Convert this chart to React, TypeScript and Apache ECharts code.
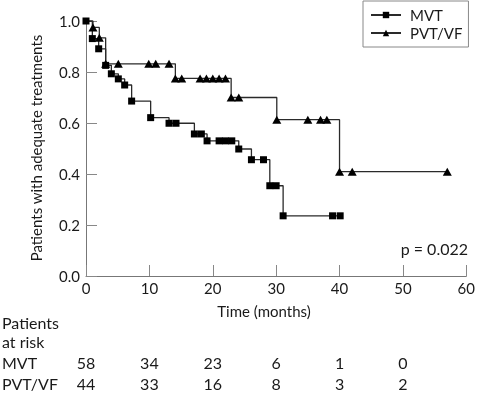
import React, { useEffect, useRef } from "react";
import * as echarts from "echarts";

const riskMonths = [0, 10, 20, 30, 40, 50];
const riskMVT = [58, 34, 23, 6, 1, 0];
const riskPVT = [44, 33, 16, 8, 3, 2];

const mvtTimes = [0, 1, 2, 3.1, 4, 5.1, 6.1, 7.2, 10.2, 13.1, 14.2, 17.1, 18.2, 19.1, 21, 22, 23, 24.1, 26.1, 28, 29, 30, 31.1, 38.9, 40.1];
const mvtSurv = [1.0, 0.931, 0.891, 0.826, 0.793, 0.773, 0.749, 0.686, 0.621, 0.599, 0.599, 0.557, 0.557, 0.53, 0.53, 0.53, 0.53, 0.498, 0.456, 0.456, 0.354, 0.354, 0.236, 0.236, 0.236];

const pvtTimes = [0, 1.1, 2.1, 3.1, 5.1, 9.9, 11, 13.1, 14.1, 15.1, 18, 19, 20, 21, 22, 22.9, 24.1, 30.1, 35, 37, 38, 40, 42, 57];
const pvtSurv = [1.0, 0.975, 0.934, 0.832, 0.832, 0.832, 0.832, 0.832, 0.775, 0.775, 0.775, 0.775, 0.775, 0.775, 0.775, 0.70, 0.70, 0.613, 0.613, 0.613, 0.613, 0.409, 0.409, 0.409];

const FONT = "Lato";
const TXT = "#1a1a1a";

export default function App() {
  const ref = useRef<HTMLDivElement>(null);
  useEffect(() => {
    if (!ref.current) return;
    const chart = echarts.init(ref.current, undefined, { renderer: "svg" });
    const mvtData = mvtTimes.map((t, i) => [t, mvtSurv[i]]);
    const pvtData = pvtTimes.map((t, i) =>
      i === 0 ? { value: [t, pvtSurv[i]], symbol: "none" } : [t, pvtSurv[i]]
    );
    chart.setOption({
      animation: false,
      textStyle: { fontFamily: FONT },
      grid: { left: 86, top: 21, width: 382, height: 255, containLabel: false },
      legend: {
        data: ["MVT", "PVT/VF"],
        orient: "vertical",
        left: 363,
        top: 1,
        itemWidth: 30,
        itemHeight: 8,
        itemGap: 2,
        padding: [6, 6, 6, 7],
        borderColor: "#888",
        borderWidth: 1,
        textStyle: { fontFamily: FONT, fontSize: 15, color: TXT, lineHeight: 16, padding: [0, 0, 0, 4] },
      },
      xAxis: {
        type: "value",
        min: 0,
        max: 60,
        interval: 10,
        axisLine: { show: true, lineStyle: { color: "#777", width: 1 } },
        axisTick: { show: true, inside: true, length: 11, lineStyle: { color: "#888" } },
        axisLabel: { fontFamily: FONT, fontSize: 15, color: TXT, margin: 4 },
        splitLine: { show: false },
      },
      yAxis: {
        type: "value",
        min: 0,
        max: 1,
        interval: 0.2,
        axisLine: { show: true, lineStyle: { color: "#777", width: 1 } },
        axisTick: { show: true, inside: true, length: 11, lineStyle: { color: "#888" } },
        axisLabel: { fontFamily: FONT, fontSize: 15, color: TXT, margin: 6, formatter: (v: number) => v.toFixed(1) },
        splitLine: { show: false },
      },
      series: [
        {
          name: "MVT",
          type: "line",
          step: "end",
          data: mvtData,
          symbol: "rect",
          symbolSize: 7,
          showAllSymbol: true,
          lineStyle: { color: "#2a2a2a", width: 1.3 },
          itemStyle: { color: "#000" },
        },
        {
          name: "PVT/VF",
          type: "line",
          step: "end",
          data: pvtData,
          symbol: "triangle",
          symbolSize: [9, 8],
          showAllSymbol: true,
          lineStyle: { color: "#2a2a2a", width: 1.3 },
          itemStyle: { color: "#000" },
        },
      ],
    });

    const xs = riskMonths.map((m) => chart.convertToPixel({ xAxisIndex: 0 }, m) as number);
    const tableFont = { fontFamily: FONT, fontSize: 16, fill: TXT };
    const graphic: any[] = [
      {
        type: "text",
        x: 36,
        y: 148,
        rotation: Math.PI / 2,
        style: { text: "Patients with adequate treatments", ...tableFont, fontSize: 15, textAlign: "center", textVerticalAlign: "middle" },
      },
      {
        type: "text",
        x: 264,
        y: 311,
        style: { text: "Time (months)", ...tableFont, fontSize: 15, textAlign: "center", textVerticalAlign: "middle" },
      },
      {
        type: "text",
        x: 468,
        y: 248,
        style: { text: "p = 0.022", ...tableFont, fontSize: 16, textAlign: "right", textVerticalAlign: "middle" },
      },
      { type: "text", x: 2, y: 322, style: { text: "Patients", ...tableFont, textVerticalAlign: "middle" } },
      { type: "text", x: 2, y: 341, style: { text: "at risk", ...tableFont, textVerticalAlign: "middle" } },
      { type: "text", x: 2, y: 362, style: { text: "MVT", ...tableFont, textVerticalAlign: "middle" } },
      { type: "text", x: 2, y: 383, style: { text: "PVT/VF", ...tableFont, textVerticalAlign: "middle" } },
    ];
    riskMVT.forEach((n, i) => {
      graphic.push({ type: "text", x: xs[i], y: 362, style: { text: String(n), ...tableFont, textAlign: "center", textVerticalAlign: "middle" } });
    });
    riskPVT.forEach((n, i) => {
      graphic.push({ type: "text", x: xs[i], y: 383, style: { text: String(n), ...tableFont, textAlign: "center", textVerticalAlign: "middle" } });
    });
    chart.setOption({ graphic });
    return () => chart.dispose();
  }, []);
  return <div ref={ref} style={{ position: "fixed", left: 0, top: 0, width: 478, height: 398 }} />;
}
